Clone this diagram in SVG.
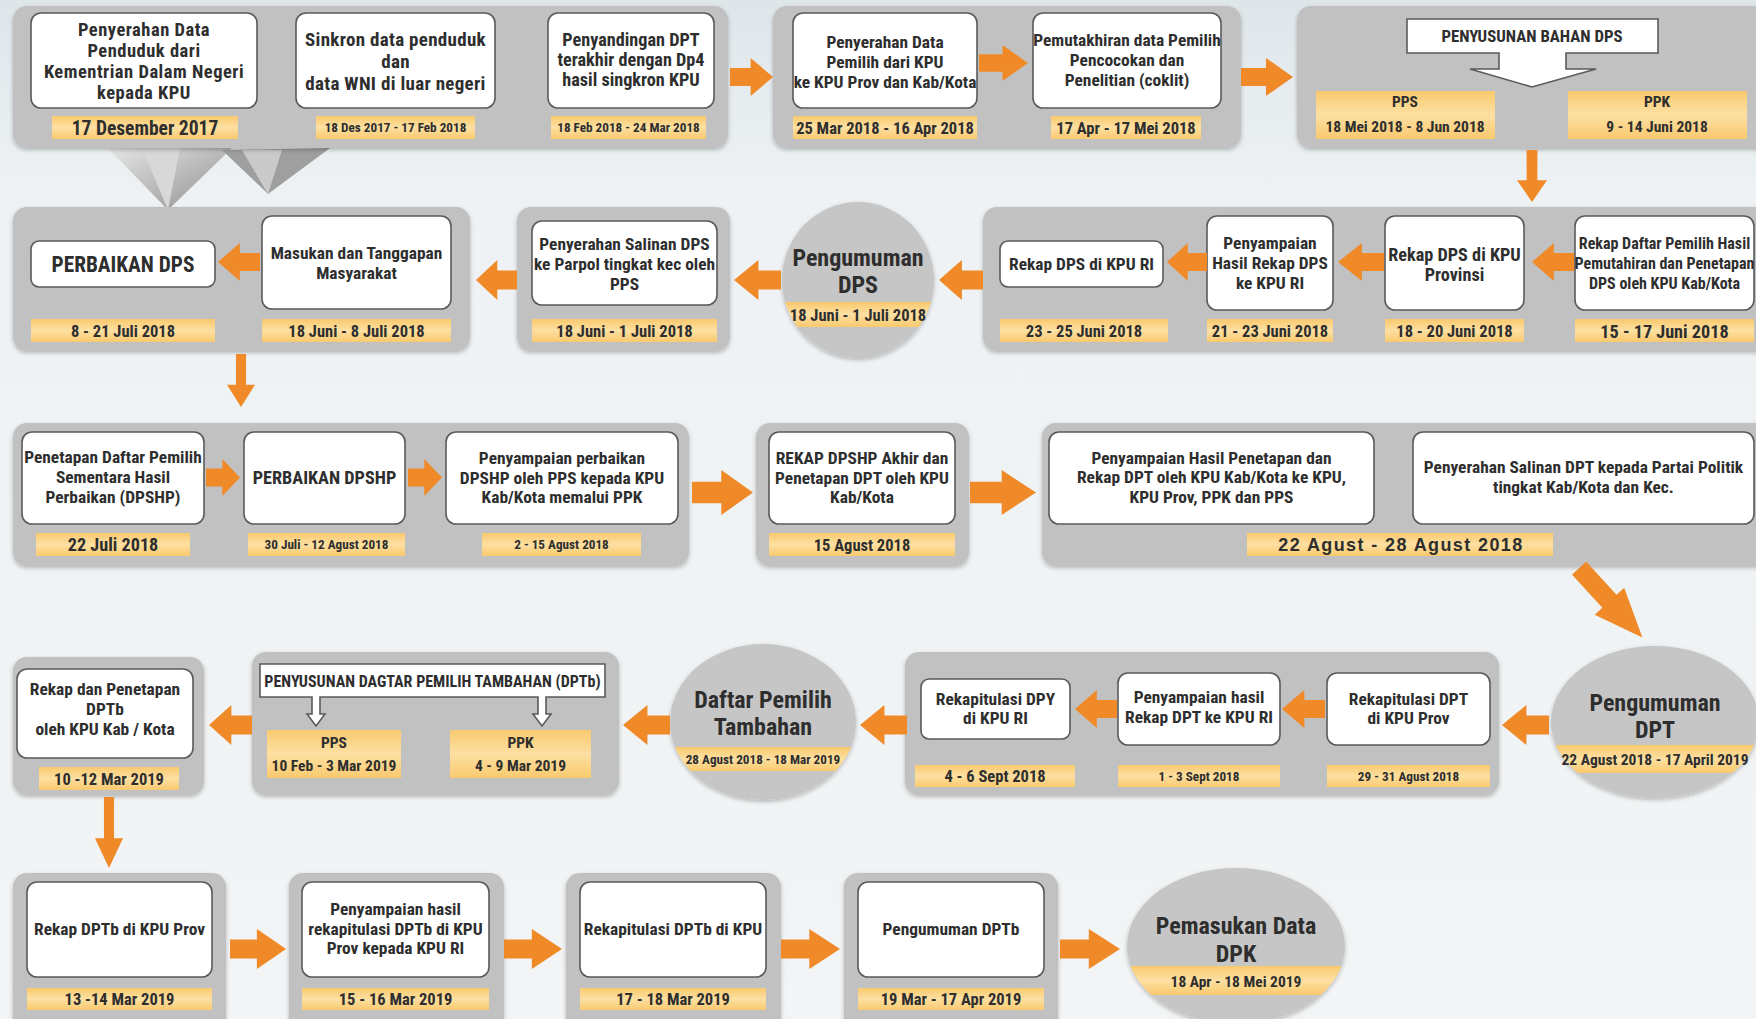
<svg xmlns="http://www.w3.org/2000/svg" xmlns:xlink="http://www.w3.org/1999/xlink" width="1756" height="1019" viewBox="0 0 1756 1019">
<defs>
<style>
.panel{fill:#c1c1c2;filter:url(#sh)}
.circ{fill:#c6c6c6;filter:url(#sh)}
.box{fill:#fff;stroke:#5a5a5a;stroke-width:1.6}
.date{fill:url(#gy)}
.arr{fill:#f08a28}
.t{font-family:"Liberation Sans Narrow","Roboto Condensed","DejaVu Sans Condensed","Liberation Sans",sans-serif;font-weight:bold;fill:#2e2e2e;text-anchor:middle;font-size:17.4px}
.w{font-family:"Liberation Sans","Arial",sans-serif;font-weight:bold;fill:#2e2e2e;text-anchor:middle;font-size:18px;letter-spacing:1.4px}
.d{font-size:16.5px}
.s13{font-size:13.2px}.s15{font-size:15.5px}.s16{font-size:16px}.s17{font-size:16.8px}.s18{font-size:18.2px}.s19{font-size:19.5px}.s21{font-size:21.3px}.c24{font-size:24px}
.big{font-size:18.5px;letter-spacing:0.5px}
.big2{font-size:19px;letter-spacing:0.3px}
</style>
<linearGradient id="gy" x1="0" y1="0" x2="0" y2="1">
<stop offset="0" stop-color="#f9c96e"/><stop offset="0.5" stop-color="#fde0a2"/><stop offset="1" stop-color="#f9c96e"/>
</linearGradient>
<linearGradient id="bg" x1="0" y1="0" x2="0" y2="1">
<stop offset="0" stop-color="#dfe6ea"/><stop offset="0.2" stop-color="#eef2f4"/><stop offset="1" stop-color="#f2f4f5"/>
</linearGradient>
<linearGradient id="pl" x1="0" y1="0" x2="1" y2="1">
<stop offset="0" stop-color="#e6e6e6"/><stop offset="1" stop-color="#8f8f8f"/>
</linearGradient>
<filter id="sh" x="-5%" y="-5%" width="110%" height="115%">
<feDropShadow dx="0" dy="2" stdDeviation="2" flood-color="#000" flood-opacity="0.25"/>
</filter>
<symbol id="ar" viewBox="0 0 100 100" preserveAspectRatio="none"><path d="M0,26 H48 V0 L100,50 L48,100 V74 H0 Z"/></symbol>
<symbol id="al" viewBox="0 0 100 100" preserveAspectRatio="none"><path d="M100,26 H52 V0 L0,50 L52,100 V74 H100 Z"/></symbol>
<symbol id="ad" viewBox="0 0 100 100" preserveAspectRatio="none"><path d="M32,0 V58 H0 L50,100 L100,58 H68 V0 Z"/></symbol>
<clipPath id="cDPS"><ellipse cx="858" cy="280" rx="76" ry="78"/></clipPath>
<clipPath id="cDPT"><ellipse cx="1655" cy="722" rx="104" ry="76"/></clipPath>
<clipPath id="cTMB"><ellipse cx="763" cy="722" rx="93" ry="78"/></clipPath>
<clipPath id="cDPK"><ellipse cx="1236" cy="946" rx="109" ry="78"/></clipPath>
</defs>
<rect width="1756" height="1019" fill="url(#bg)"/>

<!-- decorative origami shape -->
<g id="deco">
<polygon points="108,148 168,210 232,148" fill="url(#pl)"/>
<polygon points="142,148 168,210 180,148" fill="#d8d8d8"/>
<polygon points="222,150 268,194 330,148" fill="#9f9f9f"/>
<polygon points="242,150 268,194 282,150" fill="#cacaca"/>
</g>

<!-- ROW 1 -->
<g id="panelA">
<rect class="panel" x="13" y="6" width="715" height="142" rx="14"/>
</g>
<g id="n1">
<rect class="box" x="31" y="13" width="226" height="95" rx="10"/>
<text class="t big" x="144" y="36">Penyerahan Data</text>
<text class="t big" x="144" y="57">Penduduk dari</text>
<text class="t big" x="144" y="78">Kementrian Dalam Negeri</text>
<text class="t big" x="144" y="99">kepada KPU</text>
<rect class="date" x="52" y="116" width="186" height="23"/>
<text class="t s19" x="145" y="135">17 Desember 2017</text>
</g>
<g id="n2">
<rect class="box" x="296" y="13" width="199" height="95" rx="10"/>
<text class="t big2" x="395.5" y="46">Sinkron data penduduk</text>
<text class="t big2" x="395.5" y="68">dan</text>
<text class="t big2" x="395.5" y="90">data WNI di luar negeri</text>
<rect class="date" x="316" y="116" width="159" height="23"/>
<text class="t s13" x="395.5" y="132">18 Des 2017 - 17 Feb 2018</text>
</g>
<g id="n3">
<rect class="box" x="548" y="13" width="166" height="95" rx="10"/>
<text class="t s18" x="631" y="46">Penyandingan DPT</text>
<text class="t s18" x="631" y="66">terakhir dengan Dp4</text>
<text class="t s18" x="631" y="86">hasil singkron KPU</text>
<rect class="date" x="551" y="116" width="155" height="23"/>
<text class="t s13" x="628.5" y="132">18 Feb 2018 - 24 Mar 2018</text>
</g>
<g id="panelB">
<rect class="panel" x="773" y="6" width="468" height="142" rx="14"/>
</g>
<g id="n4">
<rect class="box" x="793" y="13" width="184" height="95" rx="10"/>
<text class="t" x="885" y="48">Penyerahan Data</text>
<text class="t" x="885" y="68">Pemilih dari KPU</text>
<text class="t" x="885" y="88">ke KPU Prov dan Kab/Kota</text>
<rect class="date" x="793" y="116" width="184" height="23"/>
<text class="t d" x="885" y="134">25 Mar 2018 - 16 Apr 2018</text>
</g>
<g id="n5">
<rect class="box" x="1033" y="13" width="188" height="95" rx="10"/>
<text class="t" x="1127" y="46">Pemutakhiran data Pemilih</text>
<text class="t" x="1127" y="66">Pencocokan dan</text>
<text class="t" x="1127" y="86">Penelitian (coklit)</text>
<rect class="date" x="1051" y="116" width="150" height="23"/>
<text class="t d" x="1126" y="134">17 Apr - 17 Mei 2018</text>
</g>
<g id="panelC">
<rect class="panel" x="1297" y="6" width="480" height="142" rx="14"/>
</g>
<g id="n6">
<path class="box" d="M1407,19 H1658 V53 H1566 V69 H1596 L1532,87 L1470,69 H1499 V53 H1407 Z"/>
<text class="t s17" x="1532" y="42">PENYUSUNAN BAHAN DPS</text>
<rect class="date" x="1316" y="91" width="179" height="48"/>
<text class="t s15" x="1405" y="107">PPS</text>
<text class="t s15" x="1405" y="132">18 Mei 2018 - 8 Jun 2018</text>
<rect class="date" x="1568" y="91" width="179" height="48"/>
<text class="t s15" x="1657" y="107">PPK</text>
<text class="t s15" x="1657" y="132">9 - 14 Juni 2018</text>
</g>

<!-- ROW 2 -->
<g id="panelD">
<rect class="panel" x="13" y="207" width="457" height="144" rx="14"/>
</g>
<g id="n7">
<rect class="box" x="31" y="241" width="184" height="46" rx="8"/>
<text class="t s21" x="123" y="272">PERBAIKAN DPS</text>
<rect class="date" x="31" y="319" width="184" height="23"/>
<text class="t d" x="123" y="337">8 - 21 Juli 2018</text>
</g>
<g id="n8">
<rect class="box" x="262" y="216" width="189" height="93" rx="10"/>
<text class="t" x="356.5" y="259">Masukan dan Tanggapan</text>
<text class="t" x="356.5" y="279">Masyarakat</text>
<rect class="date" x="262" y="319" width="189" height="23"/>
<text class="t d" x="356.5" y="337">18 Juni - 8 Juli 2018</text>
</g>
<g id="panelE">
<rect class="panel" x="517" y="207" width="213" height="144" rx="14"/>
</g>
<g id="n9">
<rect class="box" x="532" y="221" width="185" height="84" rx="10"/>
<text class="t" x="624.5" y="250">Penyerahan Salinan DPS</text>
<text class="t" x="624.5" y="270">ke Parpol tingkat kec oleh</text>
<text class="t" x="624.5" y="290">PPS</text>
<rect class="date" x="532" y="319" width="185" height="23"/>
<text class="t d" x="624.5" y="337">18 Juni - 1 Juli 2018</text>
</g>
<g id="n10">
<ellipse class="circ" cx="858" cy="280" rx="76" ry="78"/>
<rect class="date" x="770" y="302" width="176" height="25" clip-path="url(#cDPS)"/>
<text class="t c24" x="858" y="266">Pengumuman</text>
<text class="t c24" x="858" y="293">DPS</text>
<text class="t d" x="858" y="321">18 Juni - 1 Juli 2018</text>
</g>
<g id="panelF">
<rect class="panel" x="983" y="207" width="800" height="144" rx="14"/>
</g>
<g id="n11">
<rect class="box" x="1000" y="241" width="163" height="46" rx="8"/>
<text class="t" x="1081.5" y="270">Rekap DPS di KPU RI</text>
<rect class="date" x="1000" y="319" width="168" height="23"/>
<text class="t d" x="1084" y="337">23 - 25 Juni 2018</text>
</g>
<g id="n12">
<rect class="box" x="1207" y="216" width="126" height="94" rx="10"/>
<text class="t" x="1270" y="249">Penyampaian</text>
<text class="t" x="1270" y="269">Hasil Rekap DPS</text>
<text class="t" x="1270" y="289">ke KPU RI</text>
<rect class="date" x="1207" y="319" width="126" height="23"/>
<text class="t d" x="1270" y="337">21 - 23 Juni 2018</text>
</g>
<g id="n13">
<rect class="box" x="1385" y="216" width="139" height="94" rx="10"/>
<text class="t s18" x="1454.5" y="261">Rekap DPS di KPU</text>
<text class="t s18" x="1454.5" y="281">Provinsi</text>
<rect class="date" x="1385" y="319" width="139" height="23"/>
<text class="t d" x="1454.5" y="337">18 - 20 Juni 2018</text>
</g>
<g id="n14">
<rect class="box" x="1575" y="216" width="179" height="94" rx="10"/>
<text class="t s16" x="1664.5" y="249">Rekap Daftar Pemilih Hasil</text>
<text class="t s16" x="1664.5" y="269">Pemutahiran dan Penetapan</text>
<text class="t s16" x="1664.5" y="289">DPS oleh KPU Kab/Kota</text>
<rect class="date" x="1575" y="319" width="179" height="23"/>
<text class="t s18" x="1664.5" y="338">15 - 17 Juni 2018</text>
</g>

<!-- ROW 3 -->
<g id="panelG">
<rect class="panel" x="13" y="423" width="676" height="143" rx="14"/>
</g>
<g id="n15">
<rect class="box" x="22" y="432" width="182" height="92" rx="10"/>
<text class="t" x="113" y="463">Penetapan Daftar Pemilih</text>
<text class="t" x="113" y="483">Sementara Hasil</text>
<text class="t" x="113" y="503">Perbaikan (DPSHP)</text>
<rect class="date" x="36" y="533" width="154" height="23"/>
<text class="t s18" x="113" y="551">22 Juli 2018</text>
</g>
<g id="n16">
<rect class="box" x="244" y="432" width="161" height="92" rx="10"/>
<text class="t s18" x="324.5" y="484">PERBAIKAN DPSHP</text>
<rect class="date" x="248" y="533" width="157" height="23"/>
<text class="t s13" x="326.5" y="549">30 Juli - 12 Agust 2018</text>
</g>
<g id="n17">
<rect class="box" x="446" y="432" width="232" height="92" rx="10"/>
<text class="t" x="562" y="464">Penyampaian perbaikan</text>
<text class="t" x="562" y="484">DPSHP oleh PPS kepada KPU</text>
<text class="t" x="562" y="503">Kab/Kota memalui PPK</text>
<rect class="date" x="482" y="533" width="159" height="23"/>
<text class="t s13" x="561.5" y="549">2 - 15 Agust 2018</text>
</g>
<g id="panelH">
<rect class="panel" x="756" y="423" width="213" height="143" rx="14"/>
</g>
<g id="n18">
<rect class="box" x="769" y="432" width="186" height="92" rx="10"/>
<text class="t" x="862" y="464">REKAP DPSHP Akhir dan</text>
<text class="t" x="862" y="484">Penetapan DPT oleh KPU</text>
<text class="t" x="862" y="503">Kab/Kota</text>
<rect class="date" x="769" y="533" width="186" height="23"/>
<text class="t d" x="862" y="551">15 Agust 2018</text>
</g>
<g id="panelI">
<rect class="panel" x="1042" y="423" width="740" height="143" rx="14"/>
</g>
<g id="n19">
<rect class="box" x="1049" y="432" width="325" height="92" rx="10"/>
<text class="t" x="1211.5" y="464">Penyampaian Hasil Penetapan dan</text>
<text class="t" x="1211.5" y="483">Rekap DPT oleh KPU Kab/Kota ke KPU,</text>
<text class="t" x="1211.5" y="503">KPU Prov, PPK dan PPS</text>
</g>
<g id="n20">
<rect class="box" x="1413" y="432" width="341" height="92" rx="10"/>
<text class="t" x="1583.5" y="473">Penyerahan Salinan DPT kepada Partai Politik</text>
<text class="t" x="1583.5" y="493">tingkat Kab/Kota dan Kec.</text>
</g>
<g id="d20">
<rect class="date" x="1247" y="533" width="306" height="23"/>
<text class="w" x="1401" y="551">22 Agust - 28 Agust 2018</text>
</g>

<!-- ROW 4 -->
<g id="n21">
<ellipse class="circ" cx="1655" cy="722" rx="104" ry="76"/>
<rect class="date" x="1550" y="745" width="210" height="28" clip-path="url(#cDPT)"/>
<text class="t c24" x="1655" y="711">Pengumuman</text>
<text class="t c24" x="1655" y="738">DPT</text>
<text class="t s15" x="1655" y="765">22 Agust 2018 - 17 April 2019</text>
</g>
<g id="panelJ">
<rect class="panel" x="905" y="652" width="594" height="143" rx="14"/>
</g>
<g id="n22">
<rect class="box" x="1327" y="673" width="163" height="72" rx="10"/>
<text class="t" x="1408.5" y="705">Rekapitulasi DPT</text>
<text class="t" x="1408.5" y="724">di KPU Prov</text>
<rect class="date" x="1327" y="765" width="163" height="22"/>
<text class="t s13" x="1408.5" y="781">29 - 31 Agust 2018</text>
</g>
<g id="n23">
<rect class="box" x="1118" y="673" width="162" height="72" rx="10"/>
<text class="t" x="1199" y="703">Penyampaian hasil</text>
<text class="t" x="1199" y="723">Rekap DPT ke KPU RI</text>
<rect class="date" x="1118" y="765" width="162" height="22"/>
<text class="t s13" x="1199" y="781">1 - 3 Sept 2018</text>
</g>
<g id="n24">
<rect class="box" x="921" y="679" width="149" height="60" rx="8"/>
<text class="t" x="995.5" y="705">Rekapitulasi DPY</text>
<text class="t" x="995.5" y="724">di KPU RI</text>
<rect class="date" x="915" y="765" width="160" height="22"/>
<text class="t d" x="995" y="782">4 - 6 Sept 2018</text>
</g>
<g id="n25">
<ellipse class="circ" cx="763" cy="722" rx="93" ry="78"/>
<rect class="date" x="668" y="747" width="190" height="24" clip-path="url(#cTMB)"/>
<text class="t c24" x="763" y="708">Daftar Pemilih</text>
<text class="t c24" x="763" y="735">Tambahan</text>
<text class="t s13" x="763" y="764">28 Agust 2018 - 18 Mar 2019</text>
</g>
<g id="panelK">
<rect class="panel" x="252" y="652" width="367" height="143" rx="14"/>
</g>
<g id="n26">
<path class="box" d="M260,664 H605 V697 H546 V714 H551 L542,726 L533,714 H538 V697 H320 V714 H325 L316,726 L307,714 H312 V697 H260 Z" stroke-width="1.3"/>
<text class="t s16" x="432.5" y="687">PENYUSUNAN DAGTAR PEMILIH TAMBAHAN (DPTb)</text>
<rect class="date" x="267" y="730" width="134" height="48"/>
<text class="t s15" x="334" y="748">PPS</text>
<text class="t s15" x="334" y="771">10 Feb - 3 Mar 2019</text>
<rect class="date" x="450" y="730" width="141" height="48"/>
<text class="t s15" x="520.5" y="748">PPK</text>
<text class="t s15" x="520.5" y="771">4 - 9 Mar 2019</text>
</g>
<g id="panelL">
<rect class="panel" x="13" y="657" width="191" height="138" rx="14"/>
</g>
<g id="n27">
<rect class="box" x="17" y="669" width="176" height="89" rx="10"/>
<text class="t" x="105" y="695">Rekap dan Penetapan</text>
<text class="t" x="105" y="715">DPTb</text>
<text class="t" x="105" y="735">oleh KPU Kab / Kota</text>
<rect class="date" x="39" y="767" width="140" height="23"/>
<text class="t d" x="109" y="785">10 -12 Mar 2019</text>
</g>

<!-- ROW 5 -->
<g id="panelM"><rect class="panel" x="13" y="873" width="213" height="170" rx="14"/></g>
<g id="n28">
<rect class="box" x="27" y="882" width="185" height="95" rx="10"/>
<text class="t" x="119.5" y="935">Rekap DPTb di KPU Prov</text>
<rect class="date" x="27" y="988" width="185" height="22"/>
<text class="t d" x="119.5" y="1005">13 -14 Mar 2019</text>
</g>
<g id="panelN"><rect class="panel" x="289" y="873" width="215" height="170" rx="14"/></g>
<g id="n29">
<rect class="box" x="302" y="882" width="187" height="95" rx="10"/>
<text class="t" x="395.5" y="915">Penyampaian hasil</text>
<text class="t" x="395.5" y="935">rekapitulasi DPTb di KPU</text>
<text class="t" x="395.5" y="954">Prov kepada KPU RI</text>
<rect class="date" x="302" y="988" width="187" height="22"/>
<text class="t d" x="395.5" y="1005">15 - 16 Mar 2019</text>
</g>
<g id="panelO"><rect class="panel" x="566" y="873" width="215" height="170" rx="14"/></g>
<g id="n30">
<rect class="box" x="580" y="882" width="186" height="95" rx="10"/>
<text class="t" x="673" y="935">Rekapitulasi DPTb di KPU</text>
<rect class="date" x="580" y="988" width="186" height="22"/>
<text class="t d" x="673" y="1005">17 - 18 Mar 2019</text>
</g>
<g id="panelP"><rect class="panel" x="844" y="873" width="214" height="170" rx="14"/></g>
<g id="n31">
<rect class="box" x="858" y="882" width="186" height="95" rx="10"/>
<text class="t" x="951" y="935">Pengumuman DPTb</text>
<rect class="date" x="858" y="988" width="186" height="22"/>
<text class="t d" x="951" y="1005">19 Mar - 17 Apr 2019</text>
</g>
<g id="n32">
<ellipse class="circ" cx="1236" cy="946" rx="109" ry="78"/>
<rect class="date" x="1126" y="966" width="220" height="29" clip-path="url(#cDPK)"/>
<text class="t c24" x="1236" y="934">Pemasukan Data</text>
<text class="t c24" x="1236" y="962">DPK</text>
<text class="t s15" x="1236" y="987">18 Apr - 18 Mei 2019</text>
</g>

<!-- CONNECTORS -->
<g id="connectors" class="arr">
<use href="#ar" x="730" y="58" width="43" height="38"/>
<use href="#ar" x="979" y="45" width="49" height="36"/>
<use href="#ar" x="1241" y="58" width="52" height="38"/>
<use href="#ad" x="1517" y="150" width="30" height="52"/>
<use href="#al" x="1532" y="243" width="42" height="38"/>
<use href="#al" x="1338" y="243" width="46" height="38"/>
<use href="#al" x="1167" y="243" width="40" height="38"/>
<use href="#al" x="939" y="260" width="44" height="40"/>
<use href="#al" x="734" y="260" width="47" height="40"/>
<use href="#al" x="476" y="260" width="41" height="40"/>
<use href="#al" x="218" y="243" width="42" height="38"/>
<use href="#ad" x="227" y="354" width="28" height="53"/>
<use href="#ar" x="206" y="459" width="34" height="37"/>
<use href="#ar" x="408" y="459" width="34" height="37"/>
<use href="#ar" x="692" y="470" width="61" height="45"/>
<use href="#ar" x="970" y="470" width="66" height="45"/>
<use href="#ar" x="0" y="-20" width="94" height="40" transform="translate(1579,568) rotate(47.6)"/>
<use href="#al" x="1502" y="705" width="47" height="40"/>
<use href="#al" x="1282" y="690" width="43" height="38"/>
<use href="#al" x="1075" y="690" width="42" height="38"/>
<use href="#al" x="860" y="705" width="47" height="40"/>
<use href="#al" x="623" y="705" width="47" height="40"/>
<use href="#al" x="209" y="705" width="43" height="40"/>
<use href="#ad" x="95" y="797" width="28" height="71"/>
<use href="#ar" x="230" y="929" width="56" height="40"/>
<use href="#ar" x="504" y="929" width="58" height="40"/>
<use href="#ar" x="781" y="929" width="59" height="40"/>
<use href="#ar" x="1060" y="929" width="60" height="40"/>
</g>
</svg>
